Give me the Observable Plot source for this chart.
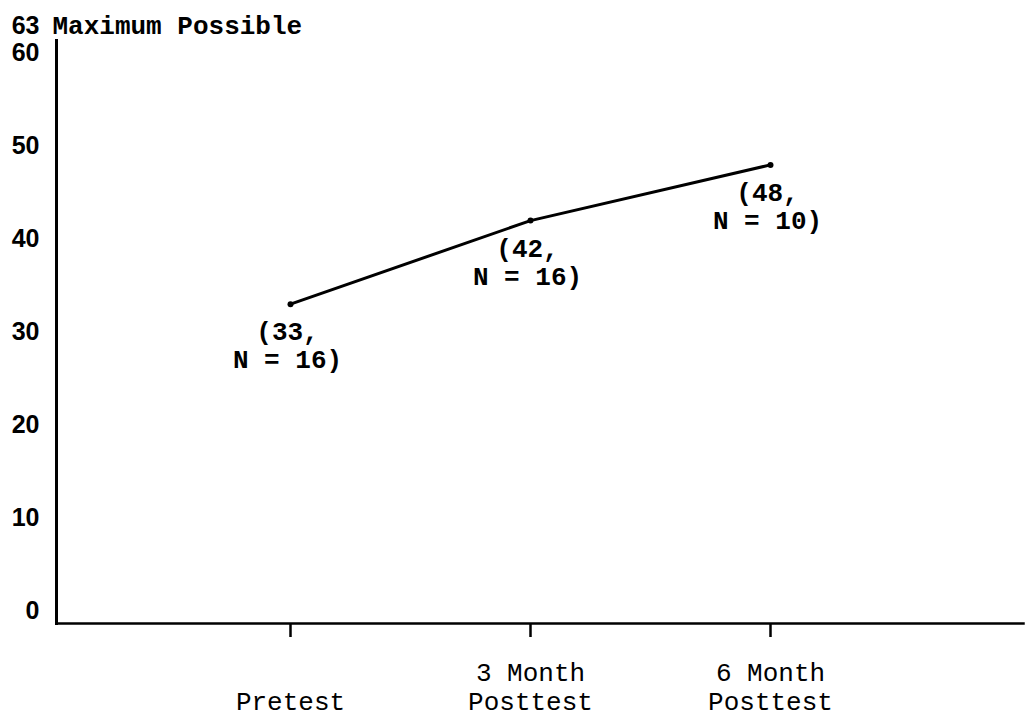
<!DOCTYPE html>
<html>
<head>
<meta charset="utf-8">
<script src="https://cdn.jsdelivr.net/npm/d3@7"></script>
<script src="https://cdn.jsdelivr.net/npm/@observablehq/plot@0.6"></script>
<style>
  html, body { margin: 0; padding: 0; background: #fff; }
  #chart svg { display: block; }
</style>
</head>
<body>
<div id="chart"></div>
<script>
const categories = ["Pretest", "3 Month Posttest", "6 Month Posttest"];
const categoryLabels = ["Pretest", "3 Month\nPosttest", "6 Month\nPosttest"];
const scores = [33, 42, 48];
const sampleSizes = [16, 16, 10];
const yTicks = [0, 10, 20, 30, 40, 50, 60, 63];
const maxPossible = 63;
const maxLabel = "Maximum Possible";

const data = categories.map((c, i) => ({
  phase: c,
  score: scores[i],
  n: sampleSizes[i],
  label: `(${scores[i]},\nN = ${sampleSizes[i]})`
}));

const mono = "'Liberation Mono', 'Courier New', monospace";

const chart = Plot.plot({
  width: 1025,
  height: 718,
  marginTop: 40,
  marginLeft: 56,
  marginRight: 2,
  marginBottom: 95,
  style: {background: "#fff", color: "#000"},
  x: {type: "point", domain: categories, range: [290, 770], padding: 0, axis: null, label: null},
  y: {domain: [-1.4, 61.4], axis: null, label: null},
  marks: [
    Plot.frame({anchor: "left", stroke: "#000", strokeWidth: 3}),
    Plot.frame({anchor: "bottom", stroke: "#000", strokeWidth: 2.5}),
    Plot.axisY(yTicks, {
      tickSize: 0, tickPadding: 17, anchor: "left", label: null,
      fontSize: 25, fontWeight: "bold", fontFamily: "'Liberation Sans', Arial, sans-serif",
      fill: "#000"
    }),
    Plot.axisX(categories, {
      tickSize: 14, tickFormat: () => "", label: null, stroke: "#000", strokeWidth: 2.5, anchor: "bottom"
    }),
    Plot.text(categories, {
      x: d => d,
      text: (d, i) => categoryLabels[i],
      frameAnchor: "bottom", lineAnchor: "bottom", dy: 86,
      lineHeight: 1.08,
      fontSize: 26, fontFamily: mono, fill: "#000",
      style: "letter-spacing:-1.2px"
    }),
    Plot.text([maxPossible], {
      y: d => d, text: () => maxLabel,
      frameAnchor: "left", textAnchor: "start", dx: -4,
      fontSize: 26, fontWeight: "bold", fontFamily: mono, fill: "#000",
      style: "letter-spacing:-0.4px"
    }),
    Plot.line(data, {x: "phase", y: "score", stroke: "#000", strokeWidth: 3}),
    Plot.dot(data, {x: "phase", y: "score", r: 3, fill: "#000"}),
    Plot.text(data, {
      x: "phase", y: "score", text: "label",
      textAnchor: "middle", lineAnchor: "top", dy: 16, dx: -3,
      lineHeight: 1.08,
      fontSize: 26, fontWeight: "bold", fontFamily: mono, fill: "#000",
      style: "letter-spacing:-1.2px"
    })
  ]
});

document.getElementById("chart").appendChild(chart);
</script>
</body>
</html>
